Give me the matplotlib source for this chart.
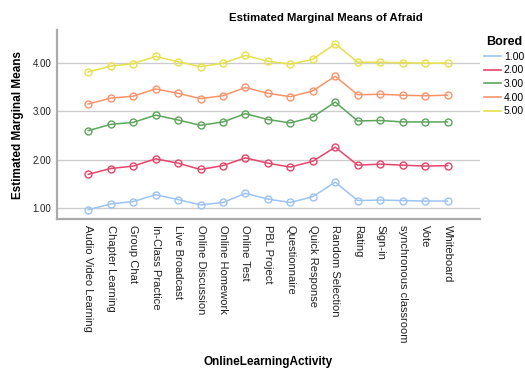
import matplotlib
matplotlib.use("Agg")
import matplotlib.pyplot as plt
import numpy as np

plt.rcParams['font.family'] = ['Liberation Sans', 'DejaVu Sans']

activities = ["Audio Video Learning", "Chapter Learning", "Group Chat",
              "In-Class Practice", "Live Broadcast", "Online Discussion",
              "Online Homework", "Online Test", "PBL Project", "Questionnaire",
              "Quick Response", "Random Selection", "Rating", "Sign-in",
              "synchronous classroom", "Vote", "Whiteboard"]

bored_levels = ["1.00", "2.00", "3.00", "4.00", "5.00"]

bored_1 = [0.97, 1.09, 1.14, 1.28, 1.18, 1.07, 1.12, 1.31, 1.19, 1.12, 1.24,
           1.54, 1.16, 1.17, 1.16, 1.15, 1.15]
bored_2 = [1.70, 1.82, 1.87, 2.02, 1.93, 1.80, 1.88, 2.04, 1.93, 1.85, 1.97,
           2.26, 1.89, 1.91, 1.89, 1.87, 1.88]
bored_3 = [2.60, 2.73, 2.77, 2.92, 2.82, 2.71, 2.78, 2.95, 2.83, 2.76, 2.88,
           3.19, 2.80, 2.81, 2.78, 2.78, 2.78]
bored_4 = [3.15, 3.27, 3.31, 3.46, 3.37, 3.26, 3.32, 3.49, 3.37, 3.30, 3.42,
           3.72, 3.34, 3.35, 3.33, 3.32, 3.33]
bored_5 = [3.81, 3.93, 3.98, 4.13, 4.02, 3.92, 3.99, 4.15, 4.03, 3.97, 4.07,
           4.39, 4.01, 4.01, 4.00, 3.99, 3.99]

series = [bored_1, bored_2, bored_3, bored_4, bored_5]
colors = ["#9cc3f2", "#e5456a", "#5ea55c", "#f9936a", "#e8e04a"]

fig = plt.figure(figsize=(5.25, 3.69), dpi=100)
ax = fig.add_axes([0.1086, 0.4065, 0.8054, 0.5122])

x = np.arange(len(activities))
for vals, c, lab in zip(series, colors, bored_levels):
    ax.plot(x, vals, color=c, lw=1.1, marker="o", ms=5, mfc="none",
            mec=c, mew=1.0, label=lab)

ax.set_xlim(-1.39, 17.44)
ax.set_ylim(0.78, 4.674)
ax.set_yticks([1, 2, 3, 4])
ax.set_yticklabels(["1.00", "2.00", "3.00", "4.00"], fontsize=7, color="#222222")
ax.set_xticks(x)
ax.set_xticklabels(activities, rotation=270, fontsize=8, color="#222222")
ax.tick_params(length=0, pad=4)
ax.yaxis.grid(True, color="#cccccc", lw=1)
ax.set_axisbelow(True)
for s in ["top", "right"]:
    ax.spines[s].set_visible(False)
for s in ["left", "bottom"]:
    ax.spines[s].set_color("#aaaaaa")
    ax.spines[s].set_linewidth(1.6)

ax.set_ylabel("Estimated Marginal Means", fontsize=8.5, fontweight="bold", labelpad=6)
fig.text(268 / 525, 1 - 362 / 369, "OnlineLearningActivity", fontsize=8.5,
         fontweight="bold", ha="center", va="center")
fig.text(326 / 525, 1 - 18 / 369, "Estimated Marginal Means of Afraid",
         fontsize=8.2, fontweight="bold", ha="center", va="center")

leg = ax.legend(title="Bored", loc="upper left", bbox_to_anchor=(1.0, 0.99),
                frameon=False, fontsize=7.5, handlelength=1.6, handletextpad=0.3,
                labelspacing=0.35, borderaxespad=0)
leg.get_title().set_fontweight("bold")
leg.get_title().set_fontsize(9)
for h in leg.get_lines():
    h.set_marker("")
    h.set_linewidth(1.2)

fig.savefig("out.png", dpi=100)
